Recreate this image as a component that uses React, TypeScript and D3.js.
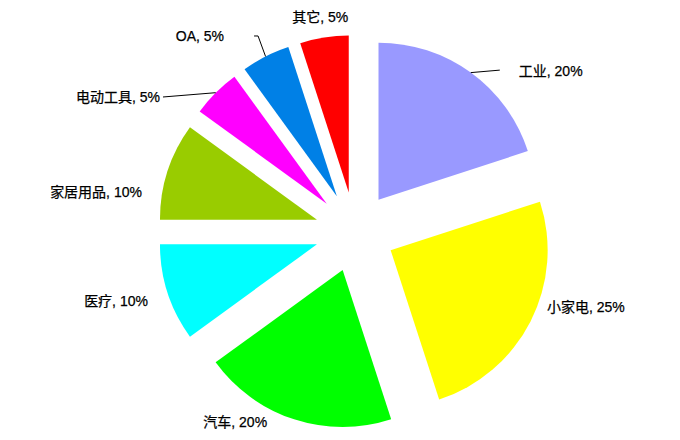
import React from "react";
import * as d3 from "d3";

const categories = ["工业", "小家电", "汽车", "医疗", "家居用品", "电动工具", "OA", "其它"];
const values = [20, 25, 20, 10, 10, 5, 5, 5];
const colors = ["#9999ff", "#ffff00", "#00ff00", "#00ffff", "#99cc00", "#ff00ff", "#0080e6", "#ff0000"];

// label layout (offset from slice's outer bisector point)
const labelLayout = [
  { dx: 48, dy: -1.5, anchor: "start", leader: true },
  { dx: 16.5, dy: -14.5, anchor: "start", leader: false },
  { dx: -27, dy: 2.7, anchor: "end", leader: false },
  { dx: -19.7, dy: 8, anchor: "end", leader: false },
  { dx: -25.7, dy: 21, anchor: "end", leader: false },
  { dx: -55.7, dy: 4.3, anchor: "end", leader: true },
  { dx: -41.5, dy: -20.5, anchor: "end", leader: true },
  { dx: -4, dy: -20, anchor: "middle", leader: false },
];

const W = 680;
const H = 440;
const CX = 355;
const CY = 232;
const R = 157;
const EXPLODE = 40;

export default function App() {
  const data = categories.map((c, i) => ({ name: c, value: values[i], color: colors[i] }));
  const pie = d3.pie<any>().sort(null).value((d: any) => d.value).startAngle(0).endAngle(2 * Math.PI);
  const arcs = pie(data);
  const arcGen = d3.arc<any>().innerRadius(0).outerRadius(R);
  const font = "'Liberation Sans', Arial, 'Noto Sans CJK SC', sans-serif";

  return (
    <svg width={W} height={H} style={{ position: "absolute", left: 0, top: 0, background: "#fff" }}>
      {arcs.map((a, i) => {
        const mid = (a.startAngle + a.endAngle) / 2;
        const ux = Math.sin(mid);
        const uy = -Math.cos(mid);
        const sx = CX + EXPLODE * ux;
        const sy = CY + EXPLODE * uy;
        return (
          <path key={"s" + i} d={arcGen(a) as string} transform={`translate(${sx},${sy})`} fill={a.data.color} />
        );
      })}
      {arcs.map((a, i) => {
        const mid = (a.startAngle + a.endAngle) / 2;
        const ux = Math.sin(mid);
        const uy = -Math.cos(mid);
        const ox = CX + EXPLODE * ux + R * ux;
        const oy = CY + EXPLODE * uy + R * uy;
        const L = labelLayout[i];
        const tx = ox + L.dx;
        const ty = oy + L.dy;
        const text = `${a.data.name}, ${a.data.value}%`;
        let leader: any = null;
        if (L.leader) {
          if (L.anchor === "start") {
            leader = <polyline points={`${ox},${oy} ${tx - 19},${ty - 1}`} fill="none" stroke="#000" strokeWidth={1} />;
          } else if (i === 6) {
            leader = (
              <polyline points={`${ox},${oy} ${tx + 34},${ty} ${tx + 30},${ty}`} fill="none" stroke="#000" strokeWidth={1} />
            );
          } else {
            leader = <polyline points={`${ox},${oy} ${tx + 3},${ty}`} fill="none" stroke="#000" strokeWidth={1} />;
          }
        }
        return (
          <g key={"l" + i}>
            {leader}
            <text x={tx} y={ty + 5} textAnchor={L.anchor} fontSize={14} fontFamily={font} fill="#000" stroke="#000" strokeWidth={0.25}>
              {text}
            </text>
          </g>
        );
      })}
    </svg>
  );
}
